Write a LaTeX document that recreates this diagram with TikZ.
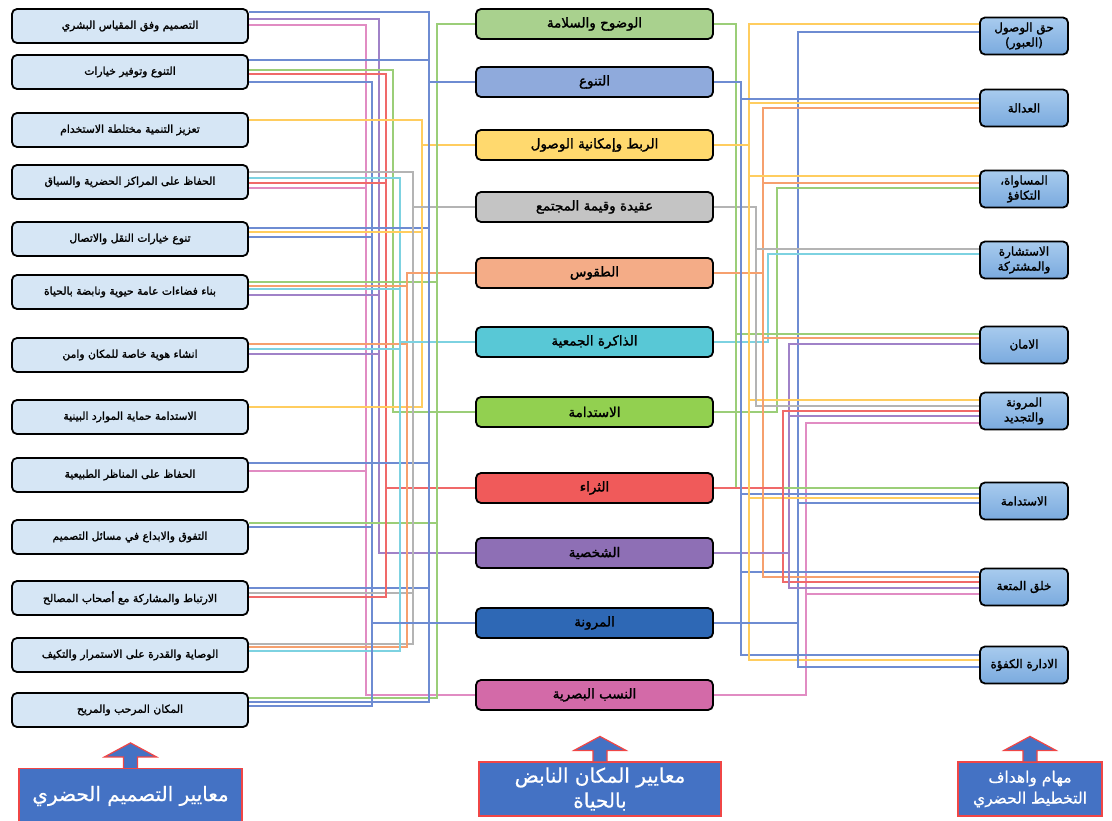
\documentclass[tikz,border=0pt]{standalone}
\usepackage{fontspec}
\usepackage{tikz}
\usetikzlibrary{calc,backgrounds}
\TeXXeTstate=1
\newfontfamily\arabicfont[Script=Arabic,FakeBold=1.6]{DejaVu Sans}
\newfontfamily\arabichead[Script=Arabic,FakeBold=0.6]{DejaVu Sans}
\newcommand{\ar}[1]{\beginR #1\endR}
% link from a left box to a middle box, over the trunk of the middle box
\newcommand{\lk}[3]{\draw[w#3] (#1.east |- 0,#2) -| (t#3 |- #3) -- (#3);}
% link from a middle box to a right box
\newcommand{\rk}[3]{\draw[w#3] (#3) -- (u#3 |- #3) |- (#1.west |- 0,#2);}

\definecolor{critfill}{RGB}{214,230,245}
\definecolor{goaltop}{RGB}{168,203,238}
\definecolor{goalbot}{RGB}{122,170,222}
\definecolor{headfill}{RGB}{68,114,196}
\definecolor{headdraw}{RGB}{240,70,70}
\definecolor{fM1}{RGB}{169,209,142}
\definecolor{fM2}{RGB}{143,170,220}
\definecolor{fM3}{RGB}{255,217,110}
\definecolor{fM4}{RGB}{196,196,196}
\definecolor{fM5}{RGB}{244,172,135}
\definecolor{fM6}{RGB}{88,200,214}
\definecolor{fM7}{RGB}{146,208,80}
\definecolor{fM8}{RGB}{240,90,90}
\definecolor{fM9}{RGB}{142,111,181}
\definecolor{fM10}{RGB}{46,104,181}
\definecolor{fM11}{RGB}{211,106,168}
\definecolor{lgreen}{RGB}{155,206,120}
\definecolor{lblue}{RGB}{110,140,210}
\definecolor{lyellow}{RGB}{255,205,95}
\definecolor{lgray}{RGB}{180,180,180}
\definecolor{lorange}{RGB}{246,160,110}
\definecolor{lcyan}{RGB}{125,210,225}
\definecolor{lred}{RGB}{240,105,105}
\definecolor{lpurple}{RGB}{160,130,200}
\definecolor{lpink}{RGB}{225,140,195}

\tikzset{
  x=1pt,y=-1pt,
  box/.style={rectangle,rounded corners=5pt,draw=black,line width=1.8pt,
    align=center,inner ysep=1pt,font=\arabicfont\fontsize{10.8}{13}\selectfont},
  crit/.style={box,fill=critfill,minimum width=236pt,minimum height=34pt},
  mid/.style={box,fill=f#1,minimum width=237pt,minimum height=30pt,
    font=\arabicfont\fontsize{13.5}{15}\selectfont},
  goal/.style={box,top color=goaltop,bottom color=goalbot,minimum width=88pt,minimum height=37pt,
    font=\arabicfont\fontsize{12}{15}\selectfont},
  head/.style={rectangle,draw=headdraw,fill=headfill,line width=1.2pt,
    text=white,align=center,font=\arabichead\fontsize{20}{24}\selectfont},
  headarrow/.style={draw=headdraw,fill=headfill,line width=1.2pt},
  wire/.style={line width=1.3pt},
  wM1/.style={wire,draw=lgreen},
  wM2/.style={wire,draw=lblue},
  wM3/.style={wire,draw=lyellow},
  wM4/.style={wire,draw=lgray},
  wM5/.style={wire,draw=lorange},
  wM6/.style={wire,draw=lcyan},
  wM7/.style={wire,draw=lgreen},
  wM8/.style={wire,draw=lred},
  wM9/.style={wire,draw=lpurple},
  wM10/.style={wire,draw=lblue},
  wM11/.style={wire,draw=lpink}
}

\begin{document}
\begin{tikzpicture}
  \useasboundingbox (0,0) rectangle (1112,821);

  % urban design criteria
  \node[crit] (L1) at (130,26) {\ar{التصميم وفق المقياس البشري}};
  \node[crit] (L2) at (130,72) {\ar{التنوع وتوفير خيارات}};
  \node[crit] (L3) at (130,130) {\ar{تعزيز التنمية مختلطة الاستخدام}};
  \node[crit] (L4) at (130,182) {\ar{الحفاظ على المراكز الحضرية والسياق}};
  \node[crit] (L5) at (130,239) {\ar{تنوع خيارات النقل والاتصال}};
  \node[crit] (L6) at (130,292) {\ar{بناء فضاءات عامة حيوية ونابضة بالحياة}};
  \node[crit] (L7) at (130,355) {\ar{انشاء هوية خاصة للمكان وامن}};
  \node[crit] (L8) at (130,417) {\ar{الاستدامة حماية الموارد البينية}};
  \node[crit] (L9) at (130,475) {\ar{الحفاظ على المناظر الطبيعية}};
  \node[crit] (L10) at (130,537) {\ar{التفوق والابداع في مسائل التصميم}};
  \node[crit] (L11) at (130,598) {\ar{الارتباط والمشاركة مع أصحاب المصالح}};
  \node[crit] (L12) at (130,655) {\ar{الوصاية والقدرة على الاستمرار والتكيف}};
  \node[crit] (L13) at (130,710) {\ar{المكان المرحب والمريح}};

  % vibrant place criteria
  \node[mid=M1] (M1) at (594.5,24) {\ar{الوضوح والسلامة}};
  \node[mid=M2] (M2) at (594.5,82) {\ar{التنوع}};
  \node[mid=M3] (M3) at (594.5,145) {\ar{الربط وإمكانية الوصول}};
  \node[mid=M4] (M4) at (594.5,207) {\ar{عقيدة وقيمة المجتمع}};
  \node[mid=M5] (M5) at (594.5,273) {\ar{الطقوس}};
  \node[mid=M6] (M6) at (594.5,342) {\ar{الذاكرة الجمعية}};
  \node[mid=M7] (M7) at (594.5,412) {\ar{الاستدامة}};
  \node[mid=M8] (M8) at (594.5,488) {\ar{الثراء}};
  \node[mid=M9] (M9) at (594.5,553) {\ar{الشخصية}};
  \node[mid=M10] (M10) at (594.5,623) {\ar{المرونة}};
  \node[mid=M11] (M11) at (594.5,695) {\ar{النسب البصرية}};

  % planning goals
  \node[goal] (R1) at (1024,36) {\ar{حق الوصول}\\\ar{(العبور)}};
  \node[goal] (R2) at (1024,108) {\ar{العدالة}};
  \node[goal] (R3) at (1024,189) {\ar{المساواة،}\\\ar{التكافؤ}};
  \node[goal] (R4) at (1024,260) {\ar{الاستشارة}\\\ar{والمشتركة}};
  \node[goal] (R5) at (1024,345) {\ar{الامان}};
  \node[goal] (R6) at (1024,411) {\ar{المرونة}\\\ar{والتجديد}};
  \node[goal] (R7) at (1024,501) {\ar{الاستدامة}};
  \node[goal] (R8) at (1024,587) {\ar{خلق المتعة}};
  \node[goal] (R9) at (1024,665) {\ar{الادارة الكفؤة}};

  % trunks
  \foreach \m/\a/\b in {M1/437/736,M2/429/741,M3/422/749,M4/413/756,M5/407/763,M6/400/768,
                        M7/393/777,M8/386/783,M9/379/789,M10/372/798,M11/366/806}{
    \coordinate (t\m) at (\a,0);
    \coordinate (u\m) at (\b,0);
  }

  \begin{scope}[on background layer]
  \lk{L1}{12}{M2}  \lk{L1}{19}{M9}  \lk{L1}{25}{M11}
  \lk{L2}{60}{M2}  \lk{L2}{70}{M7}  \lk{L2}{74}{M8}  \lk{L2}{82}{M10}
  \lk{L3}{120}{M3}
  \lk{L4}{172}{M4} \lk{L4}{178}{M6} \lk{L4}{183}{M8} \lk{L4}{188}{M11}
  \lk{L5}{228}{M2} \lk{L5}{232}{M3} \lk{L5}{237}{M10}
  \lk{L6}{282}{M1} \lk{L6}{286}{M5} \lk{L6}{289}{M6} \lk{L6}{295}{M9}
  \lk{L7}{344}{M5} \lk{L7}{349}{M6} \lk{L7}{354}{M9}
  \lk{L8}{407}{M3}
  \lk{L9}{463}{M2} \lk{L9}{471}{M11}
  \lk{L10}{523}{M1} \lk{L10}{527}{M10}
  \lk{L11}{588}{M2} \lk{L11}{593}{M4} \lk{L11}{597}{M8}
  \lk{L12}{644}{M4} \lk{L12}{647}{M5} \lk{L12}{651}{M6}
  \lk{L13}{698}{M1} \lk{L13}{702}{M2} \lk{L13}{706}{M10}

  \rk{R1}{24}{M3}  \rk{R1}{32}{M10}
  \rk{R2}{99}{M2}  \rk{R2}{103}{M3} \rk{R2}{108}{M5}
  \rk{R3}{176}{M3} \rk{R3}{183}{M5} \rk{R3}{188}{M7}
  \rk{R4}{249}{M4} \rk{R4}{254}{M6}
  \rk{R5}{334}{M1} \rk{R5}{338}{M5} \rk{R5}{344}{M9}
  \rk{R6}{400}{M3} \rk{R6}{406}{M4} \rk{R6}{411}{M8} \rk{R6}{416}{M9} \rk{R6}{423}{M11}
  \rk{R7}{488}{M1} \rk{R7}{494}{M2} \rk{R7}{498}{M3} \rk{R7}{503}{M10}
  \rk{R8}{572}{M2} \rk{R8}{577}{M5} \rk{R8}{582}{M8} \rk{R8}{588}{M9} \rk{R8}{594}{M11}
  \rk{R9}{655}{M2} \rk{R9}{660}{M3} \rk{R9}{667}{M10}
  \end{scope}

  % headings with arrows
  \node[head,minimum width=223pt,minimum height=55pt] (H1) at (130.5,796) {\ar{معايير التصميم الحضري}};
  \node[head,minimum width=242pt,minimum height=54pt,font=\arabichead\fontsize{20}{25}\selectfont] (H2) at (600,789) {\ar{معايير المكان النابض}\\\ar{بالحياة}};
  \node[head,minimum width=144pt,minimum height=54pt,font=\arabichead\fontsize{15.5}{21}\selectfont] (H3) at (1030,789) {\ar{مهام واهداف}\\\ar{التخطيط الحضري}};
  \foreach \h in {H1,H2,H3}
    \draw[headarrow] (\h.north) ++(-7,0) -- ++(0,-11) -- ++(-19,0) -- ++(26,-14)
      -- ++(26,14) -- ++(-19,0) -- ++(0,11);
\end{tikzpicture}
\end{document}
